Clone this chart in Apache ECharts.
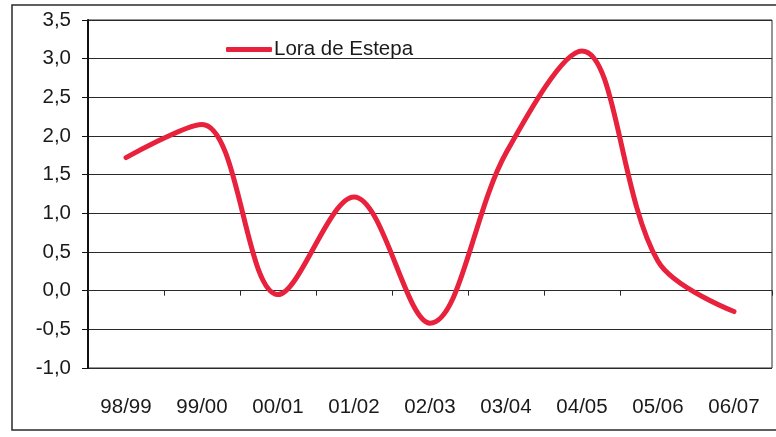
<!DOCTYPE html>
<html>
<head>
<meta charset="utf-8">
<script src="https://cdn.jsdelivr.net/npm/echarts@6/dist/echarts.min.js"></script>
<style>
html,body{margin:0;padding:0;background:#fff;}
#c{width:776px;height:437px;}
</style>
</head>
<body>
<div id="c"></div>
<script>
const categories = ['98/99','99/00','00/01','01/02','02/03','03/04','04/05','05/06','06/07'];
const seriesName = 'Lora de Estepa';
const values = [1.72, 2.15, -0.05, 1.21, -0.42, 1.78, 3.1, 0.38, -0.27];
const yMin = -1.0, yMax = 3.5, yStep = 0.5;

const chart = echarts.init(document.getElementById('c'), null, {renderer: 'canvas'});
const font = '"Liberation Sans", Arial, sans-serif';
chart.setOption({
  backgroundColor: '#ffffff',
  animation: false,
  graphic: [{
    type: 'rect', silent: true, z: -1,
    shape: {x: 12, y: 5, width: 800, height: 425},
    style: {fill: 'none', stroke: '#2a2a2a', lineWidth: 1.5}
  }],
  grid: {left: 88, right: 4, top: 20, bottom: 69, show: true, borderColor: '#2a2a2a', borderWidth: 1, backgroundColor: 'transparent'},
  legend: {
    data: [{name: seriesName, icon: 'roundRect'}], left: 221, top: 34,
    itemWidth: 46, itemHeight: 5, itemGap: 4,
    textStyle: {fontFamily: font, fontSize: 20.5, color: '#1a1a1a', padding: [0, 0, 0, -3]}
  },
  xAxis: [{
    type: 'category', data: categories, boundaryGap: true,
    axisLine: {show: true, onZero: true, lineStyle: {color: '#2a2a2a', width: 1}},
    axisTick: {show: true, length: 5, inside: false, lineStyle: {color: '#2a2a2a'}},
    axisLabel: {show: false},
    splitLine: {show: false}
  }, {
    type: 'category', data: categories, boundaryGap: true, position: 'bottom',
    axisLine: {show: false, onZero: false},
    axisTick: {show: false},
    axisLabel: {show: true, margin: 29, fontFamily: font, fontSize: 20.5, color: '#1a1a1a'},
    splitLine: {show: false}
  }],
  yAxis: {
    type: 'value', min: yMin, max: yMax, interval: yStep,
    axisLine: {show: true, lineStyle: {color: '#111', width: 2}},
    axisTick: {show: true, length: 6, lineStyle: {color: '#111'}},
    axisLabel: {margin: 17, fontFamily: font, fontSize: 20.5, color: '#1a1a1a',
      formatter: v => v.toFixed(1).replace('.', ',')},
    splitLine: {show: true, lineStyle: {color: '#2a2a2a', width: 1}}
  },
  series: [{
    name: seriesName, type: 'line', xAxisIndex: 0, data: values,
    smooth: 0.35, symbol: 'none',
    lineStyle: {color: '#e8213c', width: 5, cap: 'round'},
    itemStyle: {color: '#e8213c'}
  }]
});
</script>
</body>
</html>
